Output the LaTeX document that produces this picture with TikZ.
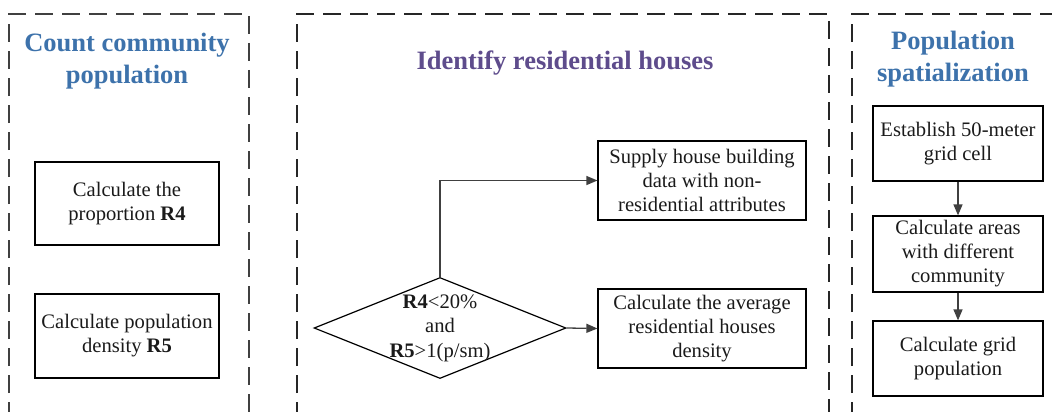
\documentclass[tikz,border=0pt]{standalone}
\usepackage{fontspec}
\setmainfont{Liberation Serif}
\usetikzlibrary{arrows.meta,shapes.geometric}
\definecolor{tblue}{HTML}{3D72AB}
\definecolor{tpurple}{HTML}{5E4C8C}
\definecolor{lgray}{HTML}{404040}
\definecolor{txt}{HTML}{1A1A1A}
\begin{document}
\begin{tikzpicture}[x=1pt,y=-1pt,
  panel/.style={line width=2pt,dash pattern=on 18pt off 9pt},
  ttl/.style={font=\fontsize{26.5}{32}\selectfont\bfseries,align=center,inner sep=0},
  stepbox/.style={draw=black,line width=1.2pt,align=center,inner sep=0,font=\fontsize{20.6}{24}\selectfont,text=txt},
  conn/.style={draw=lgray,line width=1.3pt,-{Triangle[length=11pt,width=9pt]}}
]
\useasboundingbox (0,0) rectangle (1052,412);
% panels
\draw[panel,draw=lgray] (9,420) -- (9,14) -- (249,14) -- (249,420);
\draw[panel,draw=black!85] (297,420) -- (297,14) -- (829,14) -- (829,420);
\draw[panel,draw=black!85] (852,420) -- (852,14) -- (1060,14);
% titles
\node[ttl,text=tblue] (t1) at (127,61) {Count community\\population};
\node[ttl,text=tpurple] (t2) at (565,63) {Identify residential houses};
\node[ttl,text=tblue] (t3) at (953,59) {Population\\spatialization};
% left boxes
\node[stepbox,minimum width=184pt,minimum height=83pt] (a1) at (127,203.5) {Calculate the\\proportion \textbf{R4}};
\node[stepbox,minimum width=184pt,minimum height=84pt] (a2) at (127,336) {Calculate population\\density \textbf{R5}};
% diamond
\node[diamond,draw=black,line width=1.2pt,minimum width=252pt,minimum height=101pt,inner sep=0] (d) at (440,328) {};
\node[align=center,inner sep=0,font=\fontsize{20.6}{24.5}\selectfont,text=txt] (dt) at (440,328) {\textbf{R4}<20\%\\and\\\textbf{R5}>1(p/sm)};
% middle boxes
\node[stepbox,minimum width=208pt,minimum height=79pt] (b1) at (702,180.5) {Supply house building\\data with non-\\residential attributes};
\node[stepbox,minimum width=208pt,minimum height=79pt] (b2) at (702,328.5) {Calculate the average\\residential houses\\density};
% right boxes
\node[stepbox,minimum width=170pt,minimum height=75pt] (c1) at (958,143.5) {Establish 50-meter\\grid cell};
\node[stepbox,minimum width=170pt,minimum height=76pt] (c2) at (958,254) {Calculate areas\\with different\\community};
\node[stepbox,minimum width=170pt,minimum height=75pt] (c3) at (958,358.5) {Calculate grid\\population};
% connectors
\draw[conn] (d.north) |- (b1.west);
\draw[conn] (d.east) -- (b2.west);
\draw[conn] (c1.south) -- (c2.north);
\draw[conn] (c2.south) -- (c3.north);
\end{tikzpicture}
\end{document}
